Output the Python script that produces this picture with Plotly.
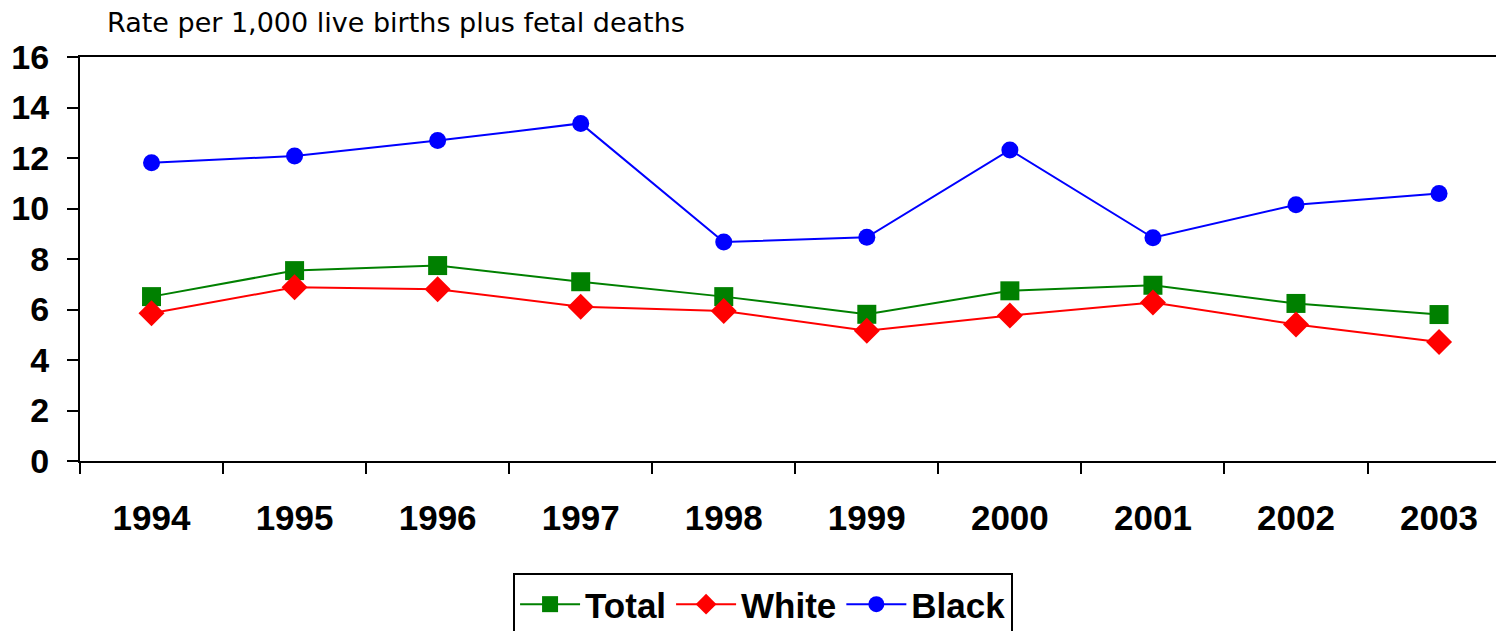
import plotly.graph_objects as go

years = ["1994", "1995", "1996", "1997", "1998", "1999", "2000", "2001", "2002", "2003"]
total = [6.51, 7.54, 7.74, 7.10, 6.51, 5.81, 6.74, 6.96, 6.24, 5.80]
white = [5.85, 6.88, 6.80, 6.11, 5.94, 5.16, 5.76, 6.28, 5.41, 4.71]
black = [11.81, 12.08, 12.69, 13.37, 8.67, 8.86, 12.32, 8.84, 10.15, 10.59]

y_ticks = [0, 2, 4, 6, 8, 10, 12, 14, 16]
y_title = "Rate per 1,000 live births plus fetal deaths"

FONT = "Liberation Sans, Arial, sans-serif"

fig = go.Figure()
fig.add_trace(go.Scatter(x=years, y=total, name="Total", mode="lines+markers",
                         line=dict(color="#008000", width=2),
                         marker=dict(symbol="square", size=19, color="#008000")))
fig.add_trace(go.Scatter(x=years, y=white, name="White", mode="lines+markers",
                         line=dict(color="#FF0000", width=2),
                         marker=dict(symbol="diamond", size=20, color="#FF0000")))
fig.add_trace(go.Scatter(x=years, y=black, name="Black", mode="lines+markers",
                         line=dict(color="#0000FF", width=2),
                         marker=dict(symbol="circle", size=17, color="#0000FF")))

# The page body adds an 8px offset; margins compensate for it.
fig.update_layout(
    width=1504, height=631,
    margin=dict(l=72, r=0, t=49, b=178, pad=0, autoexpand=False),
    paper_bgcolor="white", plot_bgcolor="white",
    font=dict(family=FONT, color="black"),
    showlegend=True,
    legend=dict(orientation="h", x=0.477, xanchor="center", y=-0.277, yanchor="top",
                bordercolor="black", borderwidth=2,
                font=dict(family=FONT, size=35, color="black", weight="bold"),
                itemwidth=60, tracegroupgap=0),
    xaxis=dict(type="category", range=[-0.5, 9.51], showgrid=False, automargin=False,
               showline=True, linecolor="black", linewidth=2, mirror=True,
               ticks="outside", ticklen=11, tickwidth=2, tickcolor="black",
               tickson="boundaries",
               tickfont=dict(family=FONT, size=35, color="black", weight="bold"),
               ticklabelstandoff=25, zeroline=False),
    yaxis=dict(range=[0, 16], tickvals=y_ticks, showgrid=False, automargin=False,
               showline=True, linecolor="black", linewidth=2,
               ticks="outside", ticklen=11, tickwidth=2, tickcolor="black",
               tickfont=dict(family=FONT, size=34, color="black", weight="bold"),
               ticklabelstandoff=11, zeroline=False),
    annotations=[dict(text=y_title, xref="paper", yref="paper",
                      x=0.0175, y=1.0866, xanchor="left", yanchor="middle",
                      showarrow=False,
                      font=dict(family="DejaVu Sans, sans-serif", size=27, color="black"))],
)

fig.write_html("out.html")
